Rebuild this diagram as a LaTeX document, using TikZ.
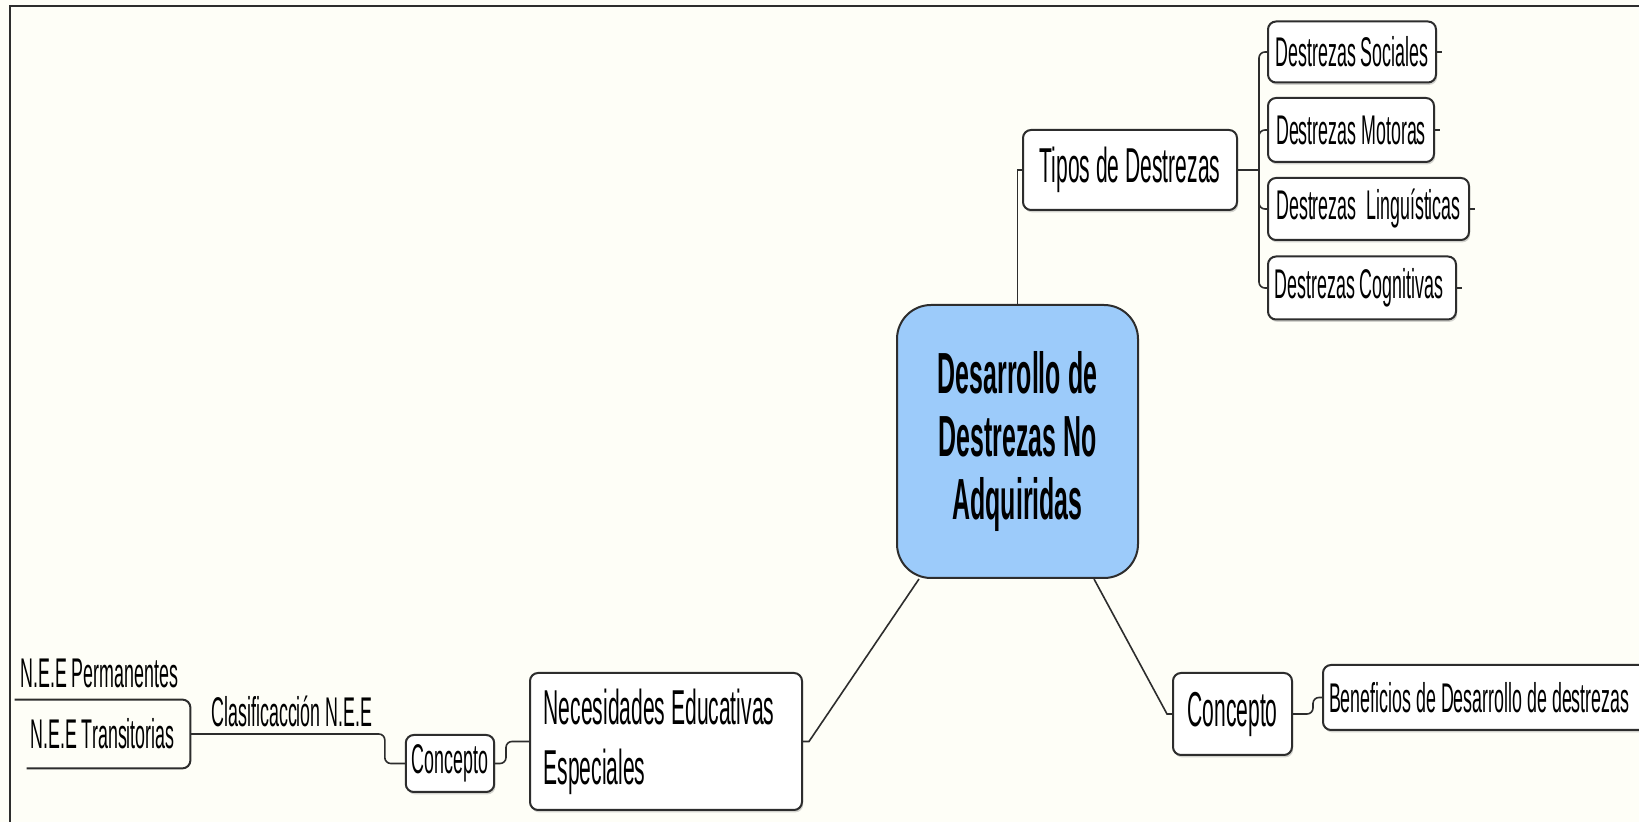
\documentclass[tikz,border=0pt]{standalone}
\usepackage{fontspec}
\setmainfont{Liberation Sans}[FakeStretch=0.43]
\usetikzlibrary{calc,shadows}
\definecolor{bgcol}{RGB}{254,254,247}
\definecolor{linecol}{RGB}{45,45,45}
\definecolor{hubblue}{RGB}{156,203,250}

\begin{document}
\begin{tikzpicture}[x=0.5pt,y=-0.5pt,
  boxline/.style={draw=linecol, line width=1pt},
  topic/.style={boxline, fill=white, rounded corners=4pt, inner xsep=3pt, inner ysep=0pt, align=left,
    font=\fontsize{20.75}{24}\selectfont,
    drop shadow={shadow xshift=0.6pt, shadow yshift=-1.2pt, opacity=0.35}},
  maintopic/.style={topic, font=\fontsize{24.5}{30}\selectfont},
  plain/.style={inner sep=0pt, align=left, font=\fontsize{20.75}{24}\selectfont},
  link/.style={draw=linecol, line width=0.8pt}]

% page and frame
\fill[bgcol] (0,0) rectangle (1639,822);
\useasboundingbox (0,0) rectangle (1639,822);
\draw[linecol, line width=1.25pt] (10,822) -- (10,6) -- (1639,6);

% central topic
\node[boxline, fill=hubblue, rounded corners=17pt, minimum width=120.5pt, minimum height=136.5pt,
  align=center, font=\bfseries\fontsize{29}{31.5}\selectfont] (ctr) at (1017.5,441.5) {Desarrollo de\\Destrezas No\\Adquiridas};

% upper branch
\node[maintopic, minimum width=107pt, minimum height=40pt] (tipos) at (1130,170) {Tipos de Destrezas};
\node[topic, anchor=west, minimum width=84pt, minimum height=30.5pt] (soc) at (1267,52) {Destrezas Sociales};
\node[topic, anchor=west, minimum width=83pt, minimum height=32pt] (mot) at (1267,130) {Destrezas Motoras};
\node[topic, anchor=west, minimum width=100.5pt, minimum height=31pt] (lin) at (1267,209) {Destrezas\ \ Linguísticas};
\node[topic, anchor=west, minimum width=94pt, minimum height=31.5pt] (cog) at (1267,288) {Destrezas Cognitivas\hspace*{3pt}};

% right branch
\node[maintopic, minimum width=59.5pt, minimum height=41pt] (cdr) at (1232.5,714) {Concepto};
\node[topic, anchor=west, minimum height=32.5pt] (ben) at (1322,697.5) {Beneficios de Desarrollo de destrezas\hspace*{20pt}};

% left branch
\node[maintopic, minimum width=136pt, minimum height=68.5pt] (nee) at (666,741.5) {Necesidades Educativas\hspace*{7pt}\\Especiales};
\node[topic, minimum width=43pt, minimum height=28.5pt] (cdl) at (450,763.5) {Concepto};
\node[plain, anchor=base] (cls) at (292,727) {Clasificacción N.E.E};
\node[plain, anchor=base west] (prm) at (20,688) {N.E.E Permanentes};
\node[plain, minimum width=87.5pt, minimum height=34pt] (trn) at (102.5,734) {N.E.E Transitorias};
\draw[boxline, rounded corners=4pt] (trn.north west) -- (trn.north east) -- (trn.south east) -- ($(trn.south west)+(12,0)$);

% connectors
\draw[link] (ctr.north) |- (tipos.west);
\coordinate (tbar) at ($(tipos.east)+(21,0)$);
\draw[link] (tipos.east) -- (tbar);
\foreach \n in {soc,mot,lin,cog}{
  \draw[link, rounded corners=3pt] (tbar) |- (\n.west);
  \draw[link] (\n.east) -- ++(5,0);
}
\draw[link] ($(ctr.south west)+(23,0)$) -- ($(nee.east)+(6,0)$) -- (nee.east);
\draw[link] ($(ctr.south east)+(-45,0)$) -- ($(cdr.west)+(-5,0)$) -- (cdr.west);
\draw[link, rounded corners=3pt] (cdr.east) -- ++(20,0) |- (ben.west);
\draw[link, rounded corners=3pt] (nee.west) -- ++(-23,0) |- (cdl.east);
\draw[link, rounded corners=3pt] (cdl.west) -- ++(-20,0) |- (trn.east);
\end{tikzpicture}
\end{document}
